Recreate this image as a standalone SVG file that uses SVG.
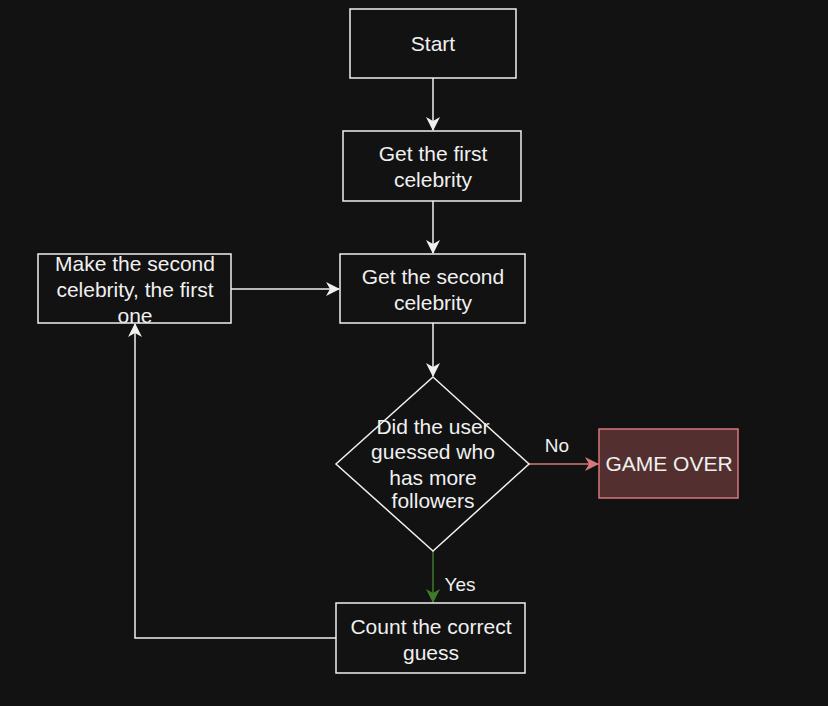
<svg xmlns="http://www.w3.org/2000/svg" width="828" height="706" viewBox="0 0 828 706">
<style>
text{font-family:"Liberation Sans",Arial,sans-serif;font-size:21px;fill:#f0f0f0;text-anchor:middle;dominant-baseline:central}
.n{fill:#121212;stroke:#f0f0f0;stroke-width:1.5}
.e{fill:none;stroke:#f0f0f0;stroke-width:1.5}
.lbl{font-size:19px}
</style>
<defs>
<marker id="aw" viewBox="0 0 14 14" refX="13" refY="7" markerWidth="14" markerHeight="14" markerUnits="userSpaceOnUse" orient="auto"><path d="M0,0 L14,7 L0,14 L4,7 Z" fill="#f0f0f0"/></marker>
<marker id="ar" viewBox="0 0 14 14" refX="13" refY="7" markerWidth="14" markerHeight="14" markerUnits="userSpaceOnUse" orient="auto"><path d="M0,0 L14,7 L0,14 L4,7 Z" fill="#d47a7a"/></marker>
<marker id="ag" viewBox="0 0 14 14" refX="13" refY="7" markerWidth="14" markerHeight="14" markerUnits="userSpaceOnUse" orient="auto"><path d="M0,0 L14,7 L0,14 L4,7 Z" fill="#3f7a2c"/></marker>
</defs>
<rect width="828" height="706" fill="#121212"/>
<g id="connectors">
<path class="e" d="M433,78 V130" marker-end="url(#aw)"/>
<path class="e" d="M433,201 V253" marker-end="url(#aw)"/>
<path class="e" d="M231,289 H339" marker-end="url(#aw)"/>
<path class="e" d="M433,323 V376" marker-end="url(#aw)"/>
<path d="M529,464 H598" fill="none" stroke="#d47a7a" stroke-width="1.5" marker-end="url(#ar)"/>
<text class="lbl" x="557" y="445">No</text>
<path d="M433,551 V602" fill="none" stroke="#3f7a2c" stroke-width="1.5" marker-end="url(#ag)"/>
<text class="lbl" x="460" y="584">Yes</text>
<path class="e" d="M336,638 H135 V324" marker-end="url(#aw)"/>
</g>
<g id="start"><rect class="n" x="350" y="9" width="166" height="69"/><text x="433" y="43">Start</text></g>
<g id="first"><rect class="n" x="343" y="131" width="178" height="70"/><text x="433" y="153">Get the first</text><text x="433" y="179">celebrity</text></g>
<g id="make"><rect class="n" x="38" y="254" width="193" height="69"/><text x="135" y="263">Make the second</text><text x="135" y="289">celebrity, the first</text><text x="135" y="315">one</text></g>
<g id="second"><rect class="n" x="340" y="254" width="185" height="69"/><text x="433" y="276">Get the second</text><text x="433" y="302">celebrity</text></g>
<g id="decision"><path class="n" d="M433,377 L529,464 L433,551 L336,464 Z"/><text x="433" y="426">Did the user</text><text x="433" y="451">guessed who</text><text x="433" y="477">has more</text><text x="433" y="500">followers</text></g>
<g id="gameover"><rect x="599" y="429" width="139" height="69" fill="#542f2f" stroke="#d47a7a" stroke-width="1.5"/><text x="669" y="463">GAME OVER</text></g>
<g id="count"><rect class="n" x="336" y="603" width="189" height="70"/><text x="431" y="626">Count the correct</text><text x="431" y="652">guess</text></g>
</svg>
